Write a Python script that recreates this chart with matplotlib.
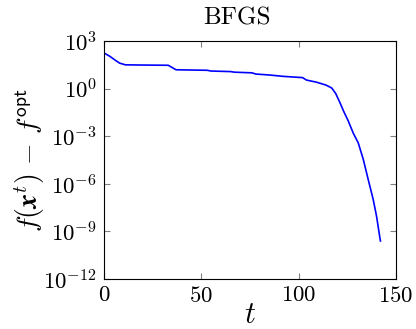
import numpy as np
import matplotlib
matplotlib.use("Agg")
import matplotlib.pyplot as plt

plt.rcParams['font.family'] = 'serif'
plt.rcParams['font.serif'] = ['cmr10', 'DejaVu Serif']
plt.rcParams['mathtext.fontset'] = 'cm'
plt.rcParams['axes.formatter.use_mathtext'] = True

# iterations and suboptimality
t = [0, 3, 6, 8, 11, 20, 33, 37, 53, 55, 65, 67, 76, 78, 85, 92, 102, 104, 109,
     114, 117, 119, 121, 123, 125.5, 128, 130.6, 133.2, 135.7, 138.3, 140, 141.7, 142]
gap = [180, 110, 60, 41, 32, 31, 30, 15.6, 14.5, 13, 12, 11, 10, 8.4, 7.3, 6.0, 5.0,
       3.5, 2.6, 1.7, 1.1, 0.5, 0.15, 0.04, 0.009, 0.0016, 0.00038, 3.4e-5,
       1.9e-6, 1.0e-7, 9e-9, 4e-10, 2.5e-10]

fig, ax = plt.subplots(figsize=(4.16, 3.29), dpi=100)
fig.subplots_adjust(left=0.25, right=0.952, top=0.875, bottom=0.152)

ax.plot(t, gap, color='blue', linewidth=1.2)
ax.set_yscale('log')
ax.set_xlim(0, 150)
ax.set_ylim(1e-12, 1e3)
ax.set_yticks([1e-12, 1e-9, 1e-6, 1e-3, 1e0, 1e3])
ax.set_xticks([0, 50, 100, 150])
ax.minorticks_off()
ax.tick_params(direction='in', top=True, right=True, labelsize=16.5, length=4,
               color='0.5', pad=5)

ax.set_title('BFGS', fontsize=18, x=0.455, pad=12)
ax.set_xlabel('$t$', fontsize=22, labelpad=-3)
ax.set_ylabel(r'$f(\boldsymbol{x}^t)\,-\,f^{\mathsf{opt}}$', fontsize=20, labelpad=-3)

fig.savefig('out.png', dpi=100)
